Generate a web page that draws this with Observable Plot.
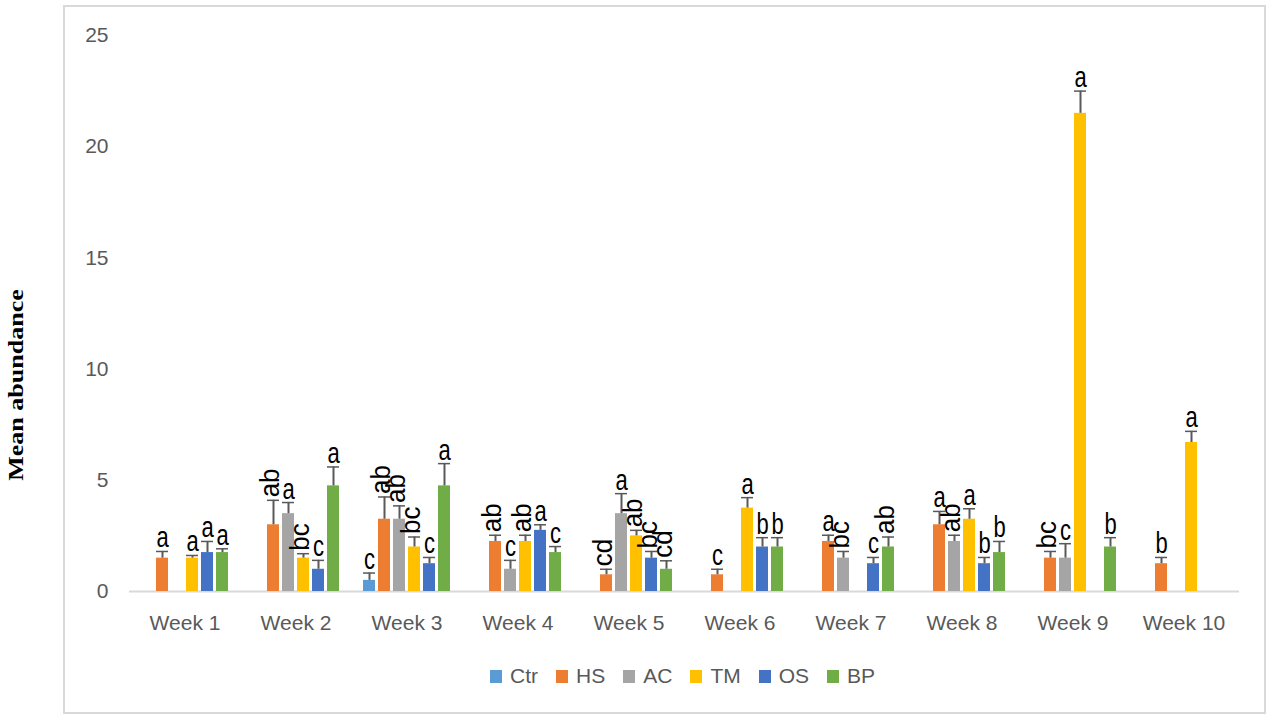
<!DOCTYPE html>
<html>
<head>
<meta charset="utf-8">
<script src="https://cdn.jsdelivr.net/npm/d3@7"></script>
<script src="https://cdn.jsdelivr.net/npm/@observablehq/plot@0.6"></script>
<style>
  body { margin: 0; background: #fff; }
  #wrap { position: relative; width: 1266px; height: 714px; overflow: hidden; font-family: "Liberation Sans", Arial, sans-serif; }
  #frame { position: absolute; left: 63px; top: 5px; width: 1203px; height: 709px; border: 2px solid #d9d9d9; box-sizing: border-box; }
  #chart { position: absolute; left: 0; top: 0; }
  #ytitle { position: absolute; left: 16px; top: 385px; transform: translate(-50%, -50%) rotate(-90deg) scaleX(1.3);
            font-family: "Liberation Serif", "Times New Roman", serif; font-weight: bold; font-size: 20px; color: #000; white-space: nowrap; }
  #legend { position: absolute; left: 490px; top: 664px; display: flex; align-items: center; font-size: 21px; color: #595959; }
  .item { display: flex; align-items: center; margin-right: 18px; }
  .sw { width: 12px; height: 13px; margin-right: 8px; }
</style>
</head>
<body>
<div id="wrap">
  <div id="frame"></div>
  <div id="chart"></div>
  <div id="ytitle">Mean abundance</div>
  <div id="legend"></div>
</div>
<script>
const weeks = ["Week 1","Week 2","Week 3","Week 4","Week 5","Week 6","Week 7","Week 8","Week 9","Week 10"];
const treatments = ["Ctr","HS","AC","TM","OS","BP"];
const colors = ["#5B9BD5","#ED7D31","#A5A5A5","#FFC000","#4472C4","#70AD47"];
const yTicks = [0, 5, 10, 15, 20, 25];

// Mean abundance per treatment, one value per week (null = no bar)
const meanCtr = [null, null, 0.5, null, null, null, null, null, null, null];
const meanHS  = [1.5, 3.0, 3.25, 2.25, 0.75, 0.75, 2.25, 3.0, 1.5, 1.25];
const meanAC  = [null, 3.5, 3.25, 1.0, 3.5, null, 1.5, 2.25, 1.5, null];
const meanTM  = [1.5, 1.5, 2.0, 2.25, 2.5, 3.75, null, 3.25, 21.5, 6.7];
const meanOS  = [1.75, 1.0, 1.25, 2.75, 1.5, 2.0, 1.25, 1.25, null, null];
const meanBP  = [1.75, 4.75, 4.75, 1.75, 1.0, 2.0, 2.0, 1.75, 2.0, null];

// Standard errors (upper error bars)
const seCtr = [null, null, 0.33, null, null, null, null, null, null, null];
const seHS  = [0.3, 1.1, 1.0, 0.28, 0.25, 0.25, 0.28, 0.6, 0.3, 0.28];
const seAC  = [null, 0.5, 0.6, 0.4, 0.9, null, 0.3, 0.28, 0.65, null];
const seTM  = [0.12, 0.2, 0.45, 0.28, 0.25, 0.47, null, 0.47, 1.0, 0.5];
const seOS  = [0.5, 0.4, 0.28, 0.25, 0.3, 0.42, 0.28, 0.28, null, null];
const seBP  = [0.17, 0.85, 1.0, 0.27, 0.38, 0.42, 0.45, 0.5, 0.42, null];

// Significance letters
const letCtr = [null, null, "c", null, null, null, null, null, null, null];
const letHS  = ["a", "ab", "ab", "ab", "cd", "c", "a", "a", "bc", "b"];
const letAC  = [null, "a", "ab", "c", "a", null, "bc", "ab", "c", null];
const letTM  = ["a", "bc", "bc", "ab", "ab", "a", null, "a", "a", "a"];
const letOS  = ["a", "c", "c", "a", "bc", "b", "c", "b", null, null];
const letBP  = ["a", "a", "a", "c", "cd", "b", "ab", "b", "b", null];

const means = {Ctr: meanCtr, HS: meanHS, AC: meanAC, TM: meanTM, OS: meanOS, BP: meanBP};
const ses = {Ctr: seCtr, HS: seHS, AC: seAC, TM: seTM, OS: seOS, BP: seBP};
const lets = {Ctr: letCtr, HS: letHS, AC: letAC, TM: letTM, OS: letOS, BP: letBP};

const rows = [];
weeks.forEach((w, i) => {
  treatments.forEach(t => {
    const m = means[t][i];
    if (m == null) return;
    const s = ses[t][i] || 0;
    rows.push({week: w, treatment: t, mean: m, se: s, top: m + s, letter: lets[t][i] || ""});
  });
});

const chart = Plot.plot({
  width: 1266,
  height: 650,
  marginLeft: 128,
  marginRight: 26.6,
  marginTop: 35,
  marginBottom: 59,
  style: {fontFamily: "'Liberation Sans', Arial, sans-serif", fontSize: "21px", color: "#595959", background: "transparent", overflow: "visible"},
  fx: {domain: weeks, padding: 0, label: null, tickSize: 0, tickPadding: 24, axis: "bottom"},
  x: {domain: treatments, paddingInner: 0.17, paddingOuter: 0.74, axis: null},
  y: {domain: [0, 25], ticks: yTicks, tickSize: 0, tickPadding: 21, label: null},
  color: {domain: treatments, range: colors},
  marks: [
    Plot.ruleY([0], {stroke: "#d9d9d9", strokeWidth: 2}),
    Plot.barY(rows, {fx: "week", x: "treatment", y: "mean", fill: "treatment"}),
    Plot.ruleX(rows, {fx: "week", x: "treatment", y1: "mean", y2: "top", stroke: "#595959", strokeWidth: 2}),
    Plot.tickY(rows, {fx: "week", x: "treatment", y: "top", stroke: "#595959", strokeWidth: 1.5}),
    Plot.text(rows.filter(d => d.letter.length === 1), {fx: "week", x: "treatment", y: "top", text: "letter",
      lineAnchor: "bottom", dy: -4, fontSize: 22, fill: "black"}),
    Plot.text(rows.filter(d => d.letter.length > 1), {fx: "week", x: "treatment", y: "top", text: "letter",
      rotate: -90, textAnchor: "start", dx: -3, dy: -3, fontSize: 24, fill: "black"})
  ]
});
document.getElementById("chart").appendChild(chart);

// stretch the letters like the reference
d3.select(chart).selectAll('g[aria-label="text"] g[font-size="22"] text').each(function() {
  const tr = this.getAttribute("transform") || "";
  this.setAttribute("transform", tr + " scale(1,1.3)");
});
d3.select(chart).selectAll('g[aria-label="text"] g[font-size="24"] text').each(function() {
  const tr = this.getAttribute("transform") || "";
  this.setAttribute("transform", tr + " scale(1.08,1.15)");
});

// legend
const legend = d3.select("#legend");
treatments.forEach((t, i) => {
  const item = legend.append("div").attr("class", "item");
  item.append("div").attr("class", "sw").style("background", colors[i]);
  item.append("span").text(t);
});
</script>
</body>
</html>
